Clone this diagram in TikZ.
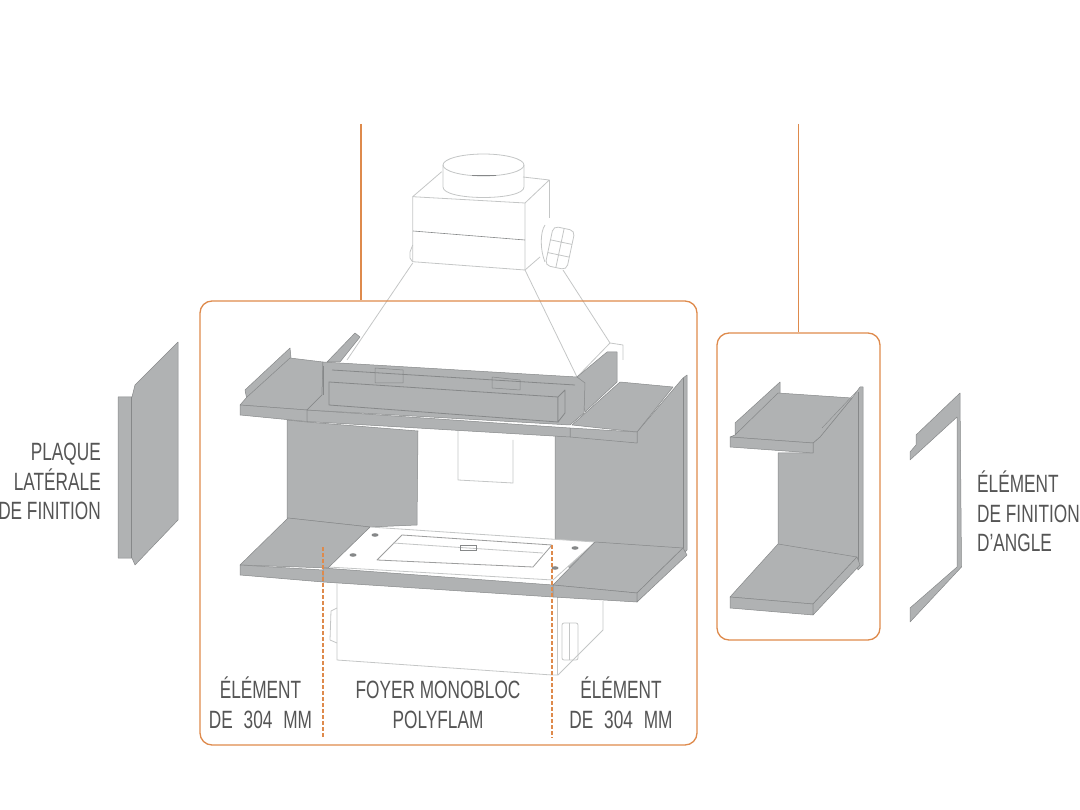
\documentclass[tikz,border=0pt]{standalone}
\usepackage{fontspec}
\setmainfont[FakeStretch=0.69]{Liberation Sans}
\definecolor{orangecadre}{HTML}{DE8A4C}
\definecolor{grispiece}{HTML}{B0B2B3}
\definecolor{grisfonce}{HTML}{868889}
\definecolor{griscontour}{HTML}{C4C6C6}
\definecolor{gristexte}{HTML}{555555}
\begin{document}
\begin{tikzpicture}[x=1pt,y=-1pt]
\tikzstyle{cadre}=[rectangle,draw=orangecadre,line width=1.3pt,rounded corners=12pt,inner sep=0pt]
\tikzstyle{repere}=[draw=orangecadre,line width=1.3pt]
\tikzstyle{pointille}=[draw=orangecadre,line width=1.4pt,dash pattern=on 3.5pt off 2.5pt]
\tikzstyle{piece}=[fill=grispiece,draw=grisfonce,line width=0.5pt,line join=round]
\tikzstyle{trait}=[draw=grisfonce,line width=0.8pt]
\tikzstyle{contour}=[draw=griscontour,line width=0.8pt,line join=round]
\tikzstyle{legende}=[text=gristexte,inner sep=0pt,font=\fontsize{25}{29.5}\selectfont]
\useasboundingbox (0,0) rectangle (1080,810);
%hotte
\draw[contour] (441.7,171.7)--(412.7,196.7)--(525,203)--(549.3,180)--(523,177);
\draw[contour] (412.7,196.7)--(412.7,261.7)--(525,270)--(525,203);
\draw[contour] (549.3,180)--(549.3,218);
\draw[contour] (525,270)--(540,257);
\draw[trait,line width=0.6pt] (413,231)--(525,240);
\draw[contour,fill=white] (483.5,165) ellipse[x radius=40.5,y radius=11];
\draw[contour] (443,165)--(443,187) .. controls (443,201) and (524,201) .. (524,187)--(524,165);
\draw[trait,line width=1pt] (472,175.5)--(496,175.5);
\draw[contour] (412.7,263)--(347,360);
\draw[contour] (525,270)--(577,377);
\draw[contour] (563,270)--(610,343)--(623,345)--(623,360);
\draw[contour] (610,343)--(577,377);
\draw[contour] (412.7,245)--(410,252)--(410,258)--(412.7,262);
%bouton
\draw[contour] (545,225) .. controls (540,232) and (540,250) .. (545,262);
\draw[contour,rounded corners=5pt,rotate around={-12:(560,248)}] (549,228) rectangle (571,268);
\draw[contour,rotate around={-12:(560,248)}] (549,242)--(571,242) (549,255)--(571,255) (560,228)--(560,268);
%caisson bas
\draw[contour] (337,583)--(337,660)--(552,675)--(558,675)--(603,630)--(603,601);
\draw[contour] (557,597)--(557,675);
\draw[contour] (337,608)--(331,611)--(330,640)--(337,643);
\draw[contour,rounded corners=2pt] (562,623) rectangle (578,660);
\draw[contour] (569,623)--(569,660);
%plaque du fond
\draw[contour] (458,430)--(458,480)--(513,483)--(513,440);
%murs
\draw[piece] (287,420)--(307,422)--(418,431)--(417,525)--(370,527)--(287,518)--cycle;
\draw[piece] (555,430)--(637,443)--(637,432)--(683,378)--(687,375)--(687,550)--(637,602)--(555,560)--cycle;
\draw[trait,line width=0.4pt] (683,378)--(683,548);
%tablette haute
\draw[piece] (245,390)--(290,348)--(291,358)--(247,400)--cycle;
\draw[piece] (247,397)--(290,358)--(323,362)--(322,395)--(307,410)--(240,405)--cycle;
\draw[piece] (240,405)--(240,415)--(307,421.5)--(307,410)--cycle;
\draw[piece] (327,362)--(355,333)--(360,337)--(340,362)--cycle;
\draw[piece] (577,377)--(607,352)--(617,352)--(617,382)--(585,412)--cycle;
\draw[piece] (572,425)--(620,382)--(673,387)--(637,432)--cycle;
\draw[piece] (570,428)--(637,432)--(637,443)--(570,437)--cycle;
\draw[piece] (307,410)--(570,428)--(570,437)--(307,421.5)--cycle;
%bloc central
\draw[piece] (323,362)--(577,377)--(585,383)--(584,413)--(570,425)--(307,410)--(322,395)--cycle;
\draw[piece] (375,368)--(403,370)--(403,383)--(375,383)--cycle;
\draw[piece] (492,377)--(520,380)--(520,390)--(492,388)--cycle;
\draw[trait] (323,366)--(323,395);
\draw[trait] (332,370)--(575,385);
\draw[piece,line width=0.8pt] (329,382)--(558,397)--(558,422)--(329,405)--cycle;
\draw[piece,line width=0.8pt] (558,397)--(565,390)--(565,413)--(558,422)--cycle;
%foyer
\draw[contour,fill=white] (370,527)--(595,542)--(553,580)--(328,567)--cycle;
\draw[contour,draw=griscontour!80!black] (402,535)--(552,545)--(533,567)--(377,560)--cycle;
\draw[contour] (393,543)--(543,553);
\foreach \vx/\vy in {375/535,353/555,575/548,555/568}
  \fill[grisfonce] (\vx,\vy) ellipse[x radius=3.5,y radius=1.8];
\draw[grisfonce,line width=0.6pt] (460,545) rectangle (476,550);
%tablette basse
\draw[piece] (288,518)--(370,527)--(328,568)--(240,565)--cycle;
\draw[piece] (240,565)--(240,575)--(323,582)--(323,570)--cycle;
\draw[piece] (323,568)--(553,585)--(553,597)--(323,582)--cycle;
\draw[piece] (595,542)--(683,548)--(637,593)--(553,585)--cycle;
\draw[piece] (553,585)--(637,593)--(637,602)--(553,597)--cycle;
\draw[piece] (683,548)--(687,555)--(637,602)--(637,593)--cycle;
%element droit
\draw[piece] (778,453)--(813,453)--(813,443)--(820,437)--(852,398)--(860,387)--(863,387)--(863,565)--(858,570)--(855,560)--(778,552)--cycle;
\draw[trait,line width=0.4pt] (858,392)--(858,566);
\draw[piece] (735,423)--(780,382)--(780,393)--(735,435)--cycle;
\draw[piece] (730,437)--(735,435)--(778,393)--(852,398)--(820,437)--(813,443)--cycle;
\draw[piece] (730,437)--(813,443)--(813,453)--(730,447)--cycle;
\draw[trait,line width=0.4pt] (822,428)--(856,392);
\draw[piece] (778,544)--(857,557)--(813,604)--(730,597)--cycle;
\draw[piece] (730,597)--(813,604)--(813,615)--(730,608)--cycle;
\draw[piece] (857,557)--(860,565)--(813,615)--(813,604)--cycle;
%element de finition
\draw[piece] (960,393)--(961.5,567)--(910,622)--(910,608)--(957,567)--(957,417)--(910,460)--(910,452)--(916,445)--(916,435)--cycle;
%plaque laterale
\draw[piece] (178,342)--(178,520)--(135,565)--(132,558)--(118,558)--(118,397)--(132,397)--(135,385)--cycle;
\draw[trait,line width=0.6pt] (131,397)--(131,558);
%cadres
\node[cadre,minimum width=497pt,minimum height=444pt] (grandcadre) at (448.5,523) {};
\node[cadre,minimum width=163pt,minimum height=307pt] (petitcadre) at (798.5,486.5) {};
\coordinate (departgrand) at (361,124);
\coordinate (departpetit) at (798.5,124);
\coordinate (hautgauche) at (323,547);
\coordinate (basgauche) at (323,738);
\coordinate (hautdroite) at (552,545);
\coordinate (basdroite) at (552,738);
\draw[repere] (departgrand)--(departgrand |- grandcadre.north);
\draw[repere] (departpetit)--(petitcadre.north);
\draw[pointille] (hautgauche)--(basgauche);
\draw[pointille] (hautdroite)--(basdroite);
%textes
\node[legende,align=right,left] (plaque) at (101,481.5) {PLAQUE\\LATÉRALE\\DE FINITION};
\node[legende,align=left,right] (angle) at (977,511.5) {ÉLÉMENT\\DE FINITION\\D'ANGLE};
\node[legende,align=center] (elementg) at (260.5,703) {ÉLÉMENT\\DE \hspace{6pt}304 \hspace{6pt}MM};
\node[legende,align=center] (foyer) at (438,705) {FOYER MONOBLOC\\POLYFLAM};
\node[legende,align=center] (elementd) at (621,703) {ÉLÉMENT\\DE \hspace{6pt}304 \hspace{6pt}MM};
\end{tikzpicture}
\end{document}
